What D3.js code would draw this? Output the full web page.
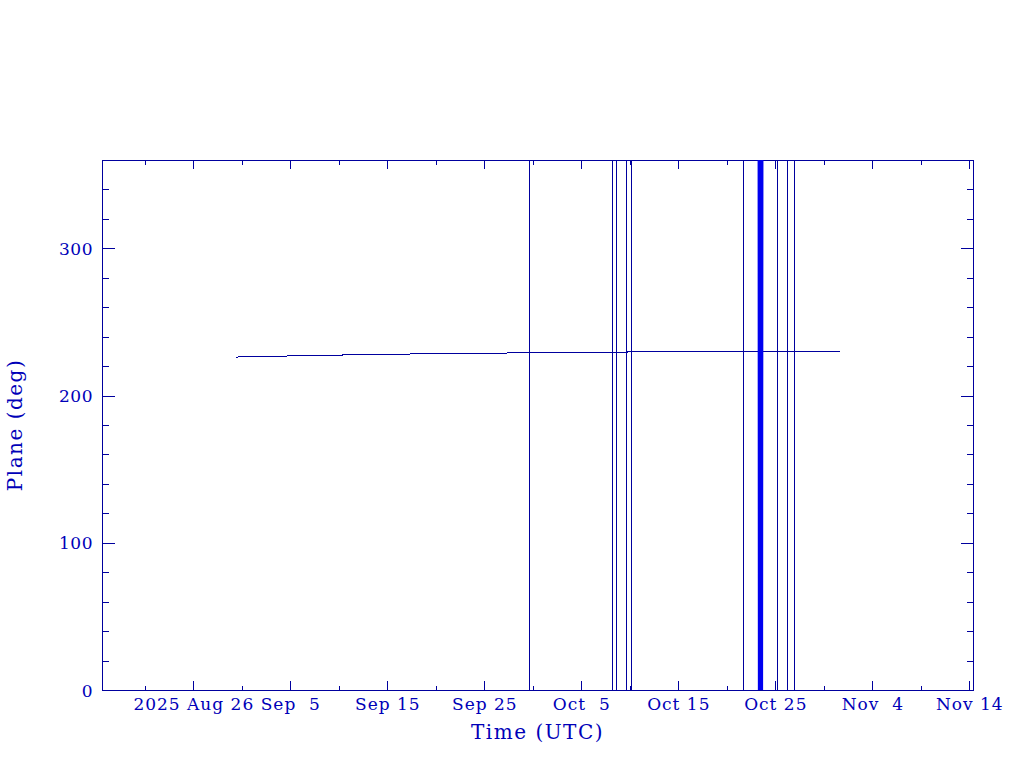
<!DOCTYPE html>
<html>
<head>
<meta charset="utf-8">
<script src="https://cdn.jsdelivr.net/npm/d3@7"></script>
<style>
  html, body { margin: 0; padding: 0; background: #fff; }
  svg { display: block; }
  text { white-space: pre; }
</style>
</head>
<body>
<script>
// ---- data ----
const xDomain = ["2025-08-16T14:07:00Z", "2025-11-14T09:09:00Z"];
const yDomain = [0, 360];

const majorTickDates = ["2025-08-26", "2025-09-05", "2025-09-15", "2025-09-25",
  "2025-10-05", "2025-10-15", "2025-10-25", "2025-11-04", "2025-11-14"];
const majorTickLabels = ["2025 Aug 26", "Sep  5", "Sep 15", "Sep 25",
  "Oct  5", "Oct 15", "Oct 25", "Nov  4", "Nov 14"];
const yTickValues = [0, 100, 200, 300];
const yTickLabels = ["0", "100", "200", "300"];

// Orbit plane series (time, degrees)
const planeTimes = [
  "2025-08-30T09:40Z", "2025-08-30T23:00Z", "2025-09-04T15:00Z", "2025-09-04T16:00Z",
  "2025-09-10T08:00Z", "2025-09-10T09:00Z", "2025-09-17T08:00Z", "2025-09-17T09:00Z",
  "2025-09-27T07:00Z", "2025-09-27T08:00Z", "2025-09-29T15:00Z",
  "2025-09-29T15:20Z", "2025-09-29T15:20Z", "2025-09-29T15:20Z", "2025-09-29T16:00Z",
  "2025-10-08T04:50Z", "2025-10-08T04:50Z", "2025-10-08T04:50Z", "2025-10-08T04:50Z",
  "2025-10-08T14:00Z", "2025-10-08T14:00Z", "2025-10-08T14:00Z", "2025-10-08T14:00Z",
  "2025-10-09T15:20Z", "2025-10-09T15:20Z", "2025-10-09T15:20Z", "2025-10-09T15:20Z",
  "2025-10-09T22:50Z",
  "2025-10-10T03:40Z", "2025-10-10T03:40Z", "2025-10-10T03:40Z", "2025-10-10T03:40Z",
  "2025-10-13T07:00Z", "2025-10-13T08:00Z",
  "2025-10-21T16:50Z", "2025-10-21T16:50Z", "2025-10-21T16:50Z", "2025-10-21T16:50Z",
  "2025-10-23T06:00Z", "2025-10-23T16:50Z",
  "2025-10-25T05:00Z", "2025-10-25T05:00Z", "2025-10-25T05:00Z", "2025-10-25T05:00Z",
  "2025-10-26T05:40Z", "2025-10-26T05:40Z", "2025-10-26T05:40Z", "2025-10-26T05:40Z",
  "2025-10-26T23:00Z", "2025-10-26T23:00Z", "2025-10-26T23:00Z", "2025-10-26T23:00Z",
  "2025-10-31T16:00Z"
];
const planeValues = [
  226.0, 226.5, 226.8, 227.1,
  227.3, 227.8, 228.1, 228.4,
  228.6, 229.0, 229.1,
  360, 0, 229.3, 229.3,
  229.4, 360, 0, 229.4,
  229.4, 0, 360, 229.4,
  229.5, 360, 0, 229.5,
  229.7,
  229.7, 0, 360, 229.7,
  229.7, 229.7,
  229.7, 360, 0, 229.7,
  229.7, 229.7,
  229.8, 360, 0, 229.8,
  229.8, 0, 360, 229.8,
  229.8, 360, 0, 229.8,
  229.8
];

// Dense burst of wrap-around values around Oct 23
const burstTimes = [
  "2025-10-23T06:00Z", "2025-10-23T06:40Z", "2025-10-23T07:20Z", "2025-10-23T08:00Z",
  "2025-10-23T08:40Z", "2025-10-23T09:20Z", "2025-10-23T10:00Z", "2025-10-23T10:40Z",
  "2025-10-23T11:20Z", "2025-10-23T12:00Z", "2025-10-23T12:40Z", "2025-10-23T13:20Z",
  "2025-10-23T14:00Z", "2025-10-23T14:40Z", "2025-10-23T15:20Z", "2025-10-23T16:00Z",
  "2025-10-23T16:50Z"
];
const burstValues = [
  360, 0, 360, 0, 360, 0, 360, 0, 360, 0, 360, 0, 360, 0, 360, 0, 360
];

// ---- layout ----
const W = 1024, H = 768;
const L = 102, R = 973, T = 160, B = 690;
const lineColor = "#00009e";
const textColor = "#0000b8";

const svg = d3.select("body").append("svg").attr("width", W).attr("height", H);

const x = d3.scaleUtc().domain(xDomain.map(d => new Date(d))).range([L, R]);
const y = d3.scaleLinear().domain(yDomain).range([B, T]);

const majorDates = majorTickDates.map(d => new Date(d + "T00:00:00Z"));
const minorDates = d3.utcDay.range(new Date("2025-08-21T00:00:00Z"), x.domain()[1], 5);
const yMinor = d3.range(0, 361, 20);

function clean(g) {
  g.select(".domain").remove();
  g.selectAll("line").attr("stroke", lineColor).attr("shape-rendering", "crispEdges");
}

// minor ticks
svg.append("g").attr("transform", `translate(0,${B})`)
  .call(d3.axisBottom(x).tickValues(minorDates).tickSize(-4.5).tickFormat(""))
  .call(clean);
svg.append("g").attr("transform", `translate(0,${T})`)
  .call(d3.axisTop(x).tickValues(minorDates).tickSize(-4.5).tickFormat(""))
  .call(clean);
svg.append("g").attr("transform", `translate(${L},0)`)
  .call(d3.axisLeft(y).tickValues(yMinor).tickSize(-6.5).tickFormat(""))
  .call(clean);
svg.append("g").attr("transform", `translate(${R},0)`)
  .call(d3.axisRight(y).tickValues(yMinor).tickSize(-6.5).tickFormat(""))
  .call(clean);

// major ticks + labels
const gx = svg.append("g").attr("transform", `translate(0,${B})`)
  .call(d3.axisBottom(x).tickValues(majorDates).tickSize(-9)
    .tickFormat((d, i) => majorTickLabels[i]))
  .call(clean);
gx.selectAll("text")
  .attr("y", 20).attr("dy", null)
  .attr("fill", textColor)
  .attr("font-family", "DejaVu Serif")
  .attr("font-size", 17)
  .attr("letter-spacing", "1px")
  .attr("xml:space", "preserve");
svg.append("g").attr("transform", `translate(0,${T})`)
  .call(d3.axisTop(x).tickValues(majorDates).tickSize(-9).tickFormat(""))
  .call(clean);

const gy = svg.append("g").attr("transform", `translate(${L},0)`)
  .call(d3.axisLeft(y).tickValues(yTickValues).tickSize(-12.5)
    .tickFormat((d, i) => yTickLabels[i]))
  .call(clean);
gy.selectAll("text")
  .attr("x", -9).attr("dy", "6px")
  .attr("fill", textColor)
  .attr("font-family", "DejaVu Serif")
  .attr("font-size", 17)
  .attr("letter-spacing", "0.5px");
svg.append("g").attr("transform", `translate(${R},0)`)
  .call(d3.axisRight(y).tickValues(yTickValues).tickSize(-12.5).tickFormat(""))
  .call(clean);

// frame
svg.append("rect")
  .attr("x", L).attr("y", T).attr("width", R - L).attr("height", B - T)
  .attr("fill", "none").attr("stroke", lineColor).attr("stroke-width", 1)
  .attr("shape-rendering", "crispEdges");

// clip
svg.append("clipPath").attr("id", "plotclip")
  .append("rect").attr("x", L).attr("y", T).attr("width", R - L).attr("height", B - T);

const line = d3.line().x(d => x(d.t)).y(d => y(d.v));

const planeData = planeTimes.map((t, i) => ({ t: new Date(t), v: planeValues[i] }));
const burstData = burstTimes.map((t, i) => ({ t: new Date(t), v: burstValues[i] }));

svg.append("path")
  .datum(planeData)
  .attr("clip-path", "url(#plotclip)")
  .attr("d", line)
  .attr("fill", "none")
  .attr("stroke", lineColor)
  .attr("stroke-width", 1)
  .attr("shape-rendering", "crispEdges");

svg.append("path")
  .datum(burstData)
  .attr("clip-path", "url(#plotclip)")
  .attr("d", line)
  .attr("fill", "none")
  .attr("stroke", "#0000f0")
  .attr("stroke-width", 1.5);

// axis titles
svg.append("text")
  .attr("x", (L + R) / 2).attr("y", 739)
  .attr("text-anchor", "middle")
  .attr("fill", textColor)
  .attr("font-family", "DejaVu Serif")
  .attr("font-size", 20)
  .attr("letter-spacing", "1.5px")
  .text("Time (UTC)");

svg.append("text")
  .attr("transform", `translate(22,${(T + B) / 2}) rotate(-90)`)
  .attr("text-anchor", "middle")
  .attr("fill", textColor)
  .attr("font-family", "DejaVu Serif")
  .attr("font-size", 20)
  .attr("letter-spacing", "1.5px")
  .text("Plane (deg)");
</script>
</body>
</html>
